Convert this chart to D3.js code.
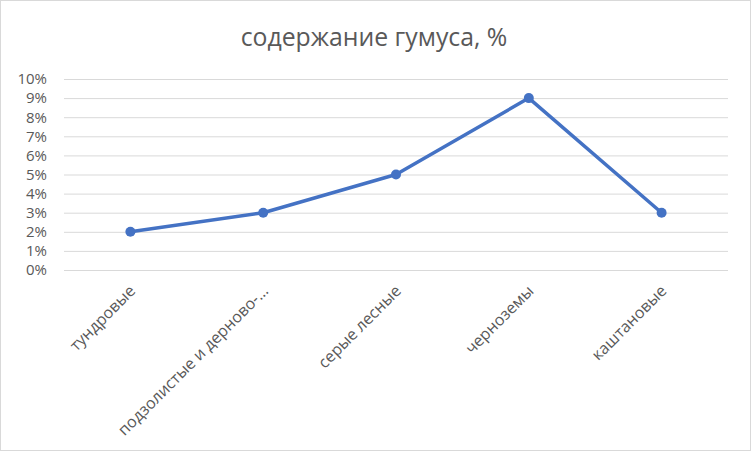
<!DOCTYPE html>
<html><head><meta charset="utf-8">
<script src="https://cdn.jsdelivr.net/npm/d3@7"></script>
<style>body{margin:0;background:#fff}svg{display:block}text{font-family:"Open Sans",sans-serif;fill:#595959}</style>
</head><body>
<svg id="c" width="752" height="452"></svg>
<script>
const categories = ["тундровые", "подзолистые и дерново-…", "серые лесные", "черноземы", "каштановые"];
const values = [0.02, 0.03, 0.05, 0.09, 0.03];
const yTicks = [0, 0.01, 0.02, 0.03, 0.04, 0.05, 0.06, 0.07, 0.08, 0.09, 0.10];
const title = "содержание гумуса, %";

const svg = d3.select("#c");
svg.append("rect").attr("x", 0.5).attr("y", 0.5).attr("width", 750).attr("height", 450)
  .attr("fill", "#fff").attr("stroke", "#d9d9d9");

const m = {left: 64, right: 728, top: 79, bottom: 270};
const x = d3.scaleBand().domain(categories).range([m.left, m.right]);
const y = d3.scaleLinear().domain([0, 0.10]).range([m.bottom, m.top]);

svg.append("text").attr("x", 374).attr("y", 46).attr("text-anchor", "middle")
  .style("font-size", "24.8px").text(title);

const yAxis = d3.axisLeft(y).tickValues(yTicks).tickFormat(d3.format(".0%")).tickSize(0).tickPadding(0);
const gy = svg.append("g").attr("transform", `translate(${m.left},0)`).call(yAxis);
gy.select(".domain").remove();
gy.selectAll(".tick text").attr("x", -17).style("font-size", "15px").attr("fill", "#595959");

const grid = d3.axisLeft(y).tickValues(yTicks).tickSize(-(m.right - m.left)).tickFormat("");
const gg = svg.append("g").attr("transform", `translate(${m.left},0)`).call(grid);
gg.select(".domain").remove();
gg.selectAll(".tick line").attr("stroke", "#d9d9d9").attr("stroke-width", 1);

const xAxis = d3.axisBottom(x).tickSize(0).tickPadding(0);
const gx = svg.append("g").attr("transform", `translate(0,${m.bottom})`).call(xAxis);
gx.select(".domain").remove();
gx.selectAll(".tick text")
  .style("font-size", "16px").attr("fill", "#595959")
  .attr("text-anchor", "end").attr("dy", null).attr("y", 0)
  .attr("transform", "translate(6,22) rotate(-45)");

const line = d3.line().x((d, i) => x(categories[i]) + x.bandwidth() / 2).y(d => y(d));
svg.append("path").datum(values).attr("d", line).attr("fill", "none")
  .attr("stroke", "#4472C4").attr("stroke-width", 3.5).attr("stroke-linejoin", "round");
svg.selectAll("circle.pt").data(values).join("circle").attr("class", "pt")
  .attr("cx", (d, i) => x(categories[i]) + x.bandwidth() / 2).attr("cy", d => y(d))
  .attr("r", 5).attr("fill", "#4472C4");
</script>
</body></html>
